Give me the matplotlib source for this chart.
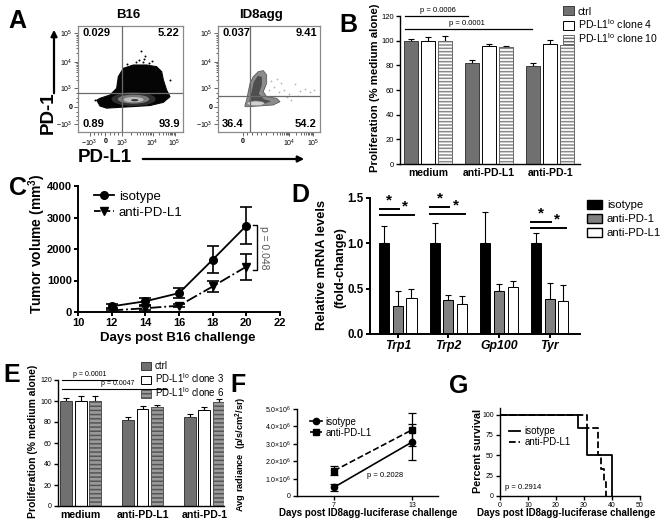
import numpy as np
import matplotlib
matplotlib.use('Agg')
import matplotlib.pyplot as plt
from matplotlib.patches import Polygon, Ellipse, Patch, FancyArrowPatch
from matplotlib.lines import Line2D

plt.rcParams['font.family'] = ['Liberation Sans', 'DejaVu Sans']
plt.rcParams['mathtext.fontset'] = 'custom'
plt.rcParams['mathtext.rm'] = 'Liberation Sans'
plt.rcParams['mathtext.it'] = 'Liberation Sans:italic'
plt.rcParams['mathtext.bf'] = 'Liberation Sans:bold'
plt.rcParams['hatch.linewidth'] = 1.1

# ---------------- data ----------------
# Panel A (flow cytometry)
flow_titles = ['B16', 'ID8agg']
b16_quadrants = ['0.029', '5.22', '0.89', '93.9']
id8_quadrants = ['0.037', '9.41', '36.4', '54.2']
flow_y_labels = ['$10^5$', '$10^4$', '$10^3$', '0', '$-10^3$']
b16_x_labels = ['$-10^3$', '0', '$10^3$', '$10^4$', '$10^5$']
id8_x_labels = ['0', '$10^4$', '$10^5$']
b16_outer = [(0.178, 0.30), (0.21, 0.245), (0.273, 0.225), (0.40, 0.233), (0.527, 0.240),
             (0.686, 0.250), (0.813, 0.280), (0.876, 0.333), (0.844, 0.396), (0.813, 0.491),
             (0.797, 0.569), (0.749, 0.616), (0.654, 0.632), (0.527, 0.632), (0.432, 0.601),
             (0.384, 0.522), (0.368, 0.412), (0.305, 0.349), (0.21, 0.318)]
b16_dots = [(0.62, 0.66), (0.55, 0.66), (0.63, 0.69), (0.58, 0.68), (0.68, 0.65), (0.64, 0.72),
            (0.88, 0.49), (0.16, 0.30), (0.47, 0.64), (0.60, 0.76), (0.70, 0.67)]
id8_outer = [(0.265, 0.239), (0.265, 0.255), (0.281, 0.302), (0.297, 0.381), (0.314, 0.459),
             (0.346, 0.522), (0.395, 0.569), (0.444, 0.579), (0.477, 0.538), (0.477, 0.459),
             (0.444, 0.381), (0.477, 0.333), (0.575, 0.318), (0.608, 0.286), (0.542, 0.255),
             (0.395, 0.245), (0.297, 0.239)]
id8_inner = [(0.30, 0.27), (0.33, 0.38), (0.35, 0.47), (0.39, 0.53), (0.43, 0.52), (0.43, 0.44),
             (0.40, 0.36), (0.45, 0.31), (0.52, 0.29), (0.45, 0.265), (0.34, 0.26)]
id8_dots = [(0.55, 0.42), (0.60, 0.38), (0.65, 0.40), (0.70, 0.36), (0.75, 0.45), (0.80, 0.39),
            (0.85, 0.41), (0.90, 0.38), (0.62, 0.46), (0.68, 0.33), (0.58, 0.50), (0.52, 0.48),
            (0.72, 0.30), (0.78, 0.34), (0.94, 0.40), (0.50, 0.40)]

# Panel B
b_groups = ['medium', 'anti-PD-L1', 'anti-PD-1']
b_labels = ['ctrl', 'PD-L1$^{\\mathregular{lo}}$ clone 4', 'PD-L1$^{\\mathregular{lo}}$ clone 10']
b_ctrl = [100, 81.7, 79.3]
b_ctrl_err = [1.5, 2.7, 2.8]
b_c4 = [100, 95.8, 97.4]
b_c4_err = [3.2, 1.8, 3.4]
b_c10 = [100, 95.0, 96.3]
b_c10_err = [3.8, 1.0, 1.3]
b_pvals = ['p = 0.0006', 'p = 0.0001']

# Panel C
c_days = [12, 14, 16, 18, 20]
c_iso = [180, 340, 600, 1660, 2740]
c_iso_err = [60, 110, 160, 420, 590]
c_pdl1 = [50, 120, 200, 810, 1440]
c_pdl1_err = [30, 70, 40, 160, 410]
c_labels = ['isotype', 'anti-PD-L1']
c_pval = 'p = 0.048'

# Panel D
d_genes = ['Trp1', 'Trp2', 'Gp100', 'Tyr']
d_labels = ['isotype', 'anti-PD-1', 'anti-PD-L1']
d_iso = [1.0, 1.0, 1.0, 1.0]
d_iso_err = [0.19, 0.22, 0.35, 0.11]
d_pd1 = [0.31, 0.38, 0.475, 0.385]
d_pd1_err = [0.16, 0.05, 0.075, 0.175]
d_pdl1 = [0.40, 0.33, 0.515, 0.365]
d_pdl1_err = [0.10, 0.09, 0.07, 0.175]

# Panel E
e_groups = ['medium', 'anti-PD-L1', 'anti-PD-1']
e_labels = ['ctrl', 'PD-L1$^{\\mathregular{lo}}$ clone 3', 'PD-L1$^{\\mathregular{lo}}$ clone 6']
e_ctrl = [100, 81.9, 84.5]
e_ctrl_err = [2.5, 2.5, 3.5]
e_c3 = [100, 92.4, 91.0]
e_c3_err = [5.0, 3.0, 3.0]
e_c6 = [100, 94.4, 99.5]
e_c6_err = [4.3, 1.4, 2.0]
e_pvals = ['p = 0.0001', 'p = 0.0047']

# Panel F (x10^6)
f_days = [7, 13]
f_iso = [0.5, 3.1]
f_iso_err = [0.2, 1.05]
f_pdl1 = [1.45, 3.8]
f_pdl1_err = [0.26, 0.95]
f_pval = 'p = 0.2028'

# Panel G
g_iso_t = [0, 28, 31, 40]
g_iso_s = [100, 83.3, 50, 0]
g_pdl1_t = [0, 31, 35, 36, 37, 38]
g_pdl1_s = [100, 83.3, 50, 33.3, 16.7, 0]
g_pval = 'p = 0.2914'

xlabel_f = 'Days post ID8agg-luciferase challenge'

# ---------------- figure ----------------
W, H = 664, 527
fig = plt.figure(figsize=(W / 100, H / 100), dpi=100)


def axpx(l, t, r, b):
    return fig.add_axes([l / W, 1 - b / H, (r - l) / W, (b - t) / H])


def ftext(x, y, s, **kw):
    fig.text(x / W, 1 - y / H, s, **kw)


def gp(ax, lw=1.2, size=8, bold=True, length=3):
    for s in ['top', 'right']:
        ax.spines[s].set_visible(False)
    for s in ['left', 'bottom']:
        ax.spines[s].set_linewidth(lw)
    ax.tick_params(direction='out', width=lw, length=length, labelsize=size, pad=1.5)
    if bold:
        for lab in ax.get_xticklabels() + ax.get_yticklabels():
            lab.set_fontweight('bold')


# panel letters
for letter, x, y in [('A', 8, 28), ('B', 339, 32), ('C', 9, 195), ('D', 291, 202),
                     ('E', 3, 382), ('F', 230, 392), ('G', 449, 393)]:
    ftext(x, y, letter, fontsize=18, fontweight='bold', va='baseline', ha='left')

# ---------- Panel A ----------
flow_y_pos = [0.93, 0.66, 0.415, 0.236, 0.075]


def minor_log(p0, p1):
    return [p0 + (p1 - p0) * np.log10(k) for k in range(2, 10)]


def flow_axes(rect, xpos, xlabels, qx, qy, quads, minors):
    ax = axpx(*rect)
    ax.set_xlim(0, 1)
    ax.set_ylim(0, 1)
    for s in ax.spines.values():
        s.set_color('#8a8a8a')
        s.set_linewidth(0.9)
    ax.set_xticks(xpos)
    ax.set_xticklabels(xlabels, fontsize=5, fontweight='bold')
    ax.set_yticks(flow_y_pos)
    ax.set_yticklabels(flow_y_labels, fontsize=5, fontweight='bold')
    ax.set_xticks(minors, minor=True)
    ax.set_yticks(minor_log(0.415, 0.66) + minor_log(0.66, 0.93) + [0.28, 0.32, 0.37, 0.19, 0.15, 0.11],
                  minor=True)
    ax.tick_params(which='both', direction='out', color='#666', width=0.7, pad=1)
    ax.tick_params(which='major', length=3)
    ax.tick_params(which='minor', length=1.8)
    ax.axvline(qx, color='#6a6a6a', lw=0.9, zorder=5)
    ax.axhline(qy, color='#6a6a6a', lw=0.9, zorder=5)
    kw = dict(fontsize=8, fontweight='bold', zorder=6)
    ax.text(0.04, 0.93, quads[0], ha='left', va='center', **kw)
    ax.text(0.97, 0.93, quads[1], ha='right', va='center', **kw)
    ax.text(0.04, 0.075, quads[2], ha='left', va='center', **kw)
    ax.text(0.97, 0.075, quads[3], ha='right', va='center', **kw)
    return ax


axA1 = flow_axes((78, 26, 183, 132), [0.11, 0.26, 0.42, 0.71, 0.92], b16_x_labels, 0.42, 0.37,
                 b16_quadrants, minor_log(0.42, 0.71) + minor_log(0.71, 0.92) + [0.15, 0.19, 0.22, 0.30, 0.34, 0.38])
axA1.add_patch(Polygon(b16_outer, closed=True, fc='#050505', ec='#050505', lw=0.8, zorder=2))
axA1.add_patch(Ellipse((0.53, 0.31), 0.42, 0.13, fc='#2e2e2e', ec='none', zorder=3))
axA1.add_patch(Ellipse((0.53, 0.31), 0.30, 0.085, fc='#7a7a7a', ec='none', zorder=3))
axA1.add_patch(Ellipse((0.53, 0.305), 0.19, 0.05, fc='#bdbdbd', ec='none', zorder=3))
axA1.add_patch(Ellipse((0.54, 0.30), 0.07, 0.022, fc='#3a3a3a', ec='none', zorder=4))
axA1.scatter([p[0] for p in b16_dots], [p[1] for p in b16_dots], s=2, c='k', zorder=2, lw=0)

axA2 = flow_axes((218, 26, 320, 132), [0.245, 0.70, 0.93], id8_x_labels, 0.314, 0.34,
                 id8_quadrants, minor_log(0.47, 0.70) + minor_log(0.70, 0.93) + [0.28, 0.33, 0.38, 0.42, 0.47])
axA2.scatter([p[0] for p in id8_dots], [p[1] for p in id8_dots], s=1.5, c='#b0b0b0', zorder=2, lw=0)
axA2.add_patch(Polygon(id8_outer, closed=True, fc='#8c8c8c', ec='#5a5a5a', lw=0.6, zorder=2))
axA2.add_patch(Polygon(id8_inner, closed=True, fc='#4e4e4e', ec='none', zorder=3))
axA2.add_patch(Ellipse((0.37, 0.27), 0.17, 0.045, fc='#d0d0d0', ec='#777', lw=0.4, zorder=4))

for t, x in zip(flow_titles, [128, 261]):
    ftext(x, 15, t, fontsize=9.5, fontweight='bold', ha='center', va='center')

ftext(48, 113, 'PD-1', fontsize=13.5, fontweight='bold', rotation=90, ha='center', va='center')
ftext(105, 158, 'PD-L1', fontsize=13.5, fontweight='bold', ha='center', va='center')
fig.add_artist(FancyArrowPatch((54 / W, 1 - 96 / H), (54 / W, 1 - 27 / H),
                               transform=fig.transFigure, arrowstyle='-|>',
                               mutation_scale=9, lw=1.6, color='k'))
fig.add_artist(FancyArrowPatch((140 / W, 1 - 159 / H), (307 / W, 1 - 159 / H),
                               transform=fig.transFigure, arrowstyle='-|>',
                               mutation_scale=9, lw=1.6, color='k'))


# ---------- grouped bar helper ----------
def grouped_bars(ax, series, errs, colors, edges, hatches, off, bw, hatch_ec):
    xg = np.arange(len(series[0]))
    n = len(series)
    for i in range(n):
        xi = xg + (i - (n - 1) / 2) * off
        ax.bar(xi, series[i], bw, color=colors[i], edgecolor=edges[i], hatch=hatches[i], lw=0.7,
               zorder=2)
        if hatches[i]:
            ax.bar(xi, series[i], bw, color='none', edgecolor=hatch_ec, lw=0.7, zorder=3)
        ax.errorbar(xi, series[i], yerr=[np.zeros(len(errs[i])), errs[i]], fmt='none', ecolor='k',
                    elinewidth=0.8, capsize=2.5, capthick=0.8, zorder=1)
    return xg


# ---------- Panel B ----------
axB = axpx(400, 16, 580, 164)
xg = grouped_bars(axB, [b_ctrl, b_c4, b_c10], [b_ctrl_err, b_c4_err, b_c10_err],
                  ['#707070', 'white', 'white'], ['#3c3c3c', 'black', '#8a8a8a'], [None, None, '-----'],
                  0.28, 0.23, '#6a6a6a')
axB.set_xlim(-0.46, 2.49)
axB.set_ylim(0, 120)
axB.set_yticks(range(0, 121, 20))
axB.set_xticks(xg)
axB.set_xticklabels(b_groups)
gp(axB, lw=1.0, size=5.5, bold=False)
axB.tick_params(axis='x', length=0, pad=3)
for lab in axB.get_xticklabels():
    lab.set_fontsize(7.5)
    lab.set_fontweight('bold')
ftext(375, 88, 'Proliferation (% medium alone)', fontsize=8.2, fontweight='bold', rotation=90,
      ha='center', va='center')
axB.plot([-0.377, 0.656], [120, 120], color='k', lw=0.9, clip_on=False)
axB.plot([-0.377, 1.70], [109.5, 109.5], color='k', lw=0.9, clip_on=False)
axB.text(0.16, 124.5, b_pvals[0], fontsize=5.5, ha='center', va='center')
axB.text(0.64, 114, b_pvals[1], fontsize=5.5, ha='center', va='center')
hB = [Patch(fc='#707070', ec='#3c3c3c', lw=0.7), Patch(fc='white', ec='black', lw=0.7),
      Patch(fc='white', ec='#6a6a6a', hatch='-----', lw=0.7)]
fig.legend(hB, b_labels, loc='upper left', bbox_to_anchor=(557 / W, 1 - 0 / H), frameon=False,
           fontsize=7.6, handlelength=1.0, handleheight=0.95, labelspacing=0.05, handletextpad=0.35,
           borderpad=0.1)

# ---------- Panel C ----------
axC = axpx(78, 186, 280, 312)
axC.errorbar(c_days, c_iso, yerr=c_iso_err, fmt='-o', color='k', ms=5.5, lw=1.3, capsize=4,
             elinewidth=1.2, capthick=1.2)
axC.errorbar(c_days, c_pdl1, yerr=c_pdl1_err, fmt='v', ls='-.', color='k', ms=5.5, lw=1.3,
             capsize=4, elinewidth=1.2, capthick=1.2)
axC.set_xlim(10, 22)
axC.set_ylim(0, 4000)
axC.set_xticks(range(10, 23, 2))
axC.set_yticks(range(0, 4001, 1000))
gp(axC, lw=1.4, size=8)
ftext(178, 338, 'Days post B16 challenge', fontsize=9.5, fontweight='bold', ha='center', va='center')
ftext(37, 244, 'Tumor volume (mm$^{\\mathbf{3}}$)', fontsize=10, fontweight='bold', rotation=90,
      ha='center', va='center')
hC = [Line2D([], [], color='k', marker='o', ms=5.5, lw=1.3),
      Line2D([], [], color='k', marker='v', ms=5.5, lw=1.3, ls='--')]
axC.legend(hC, c_labels, loc='upper left', bbox_to_anchor=(0.02, 1.06), frameon=False, fontsize=9.5,
           handlelength=1.5, labelspacing=0.3, handletextpad=0.4)
axC.plot([20.4, 20.63, 20.63, 20.4], [2762, 2762, 1333, 1333], color='k', lw=1.0, clip_on=False)
axC.text(21.05, 2050, c_pval, rotation=270, fontsize=7.5, color='#555', ha='center', va='center')

# ---------- Panel D ----------
axD = axpx(370, 198, 580, 334)
xd = grouped_bars(axD, [d_iso, d_pd1, d_pdl1], [d_iso_err, d_pd1_err, d_pdl1_err],
                  ['black', '#808080', 'white'], ['black', 'black', 'black'], [None, None, None],
                  0.27, 0.2, 'k')
axD.set_xlim(-0.55, 3.6)
axD.set_ylim(0, 1.5)
axD.set_yticks([0, 0.5, 1.0, 1.5])
axD.set_yticklabels(['0.0', '0.5', '1.0', '1.5'])
axD.set_xticks(xd)
axD.set_xticklabels(d_genes)
gp(axD, lw=1.4, size=8.3)
for lab in axD.get_xticklabels():
    lab.set_fontstyle('italic')
    lab.set_fontsize(8.8)
ftext(322, 265, 'Relative mRNA levels', fontsize=9.2, fontweight='bold', rotation=90,
      ha='center', va='center')
ftext(340, 268, '(fold-change)', fontsize=9.2, fontweight='bold', rotation=90,
      ha='center', va='center')
for g, y1, y2 in [(0, 1.38, 1.31), (1, 1.40, 1.32), (3, 1.235, 1.17)]:
    axD.plot([g - 0.36, g + 0.02], [y1, y1], color='k', lw=1.4, clip_on=False)
    axD.plot([g - 0.36, g + 0.32], [y2, y2], color='k', lw=1.4, clip_on=False)
    axD.text(g - 0.17, y1 + 0.015, '*', fontsize=11, fontweight='bold', ha='center', va='bottom')
    axD.text(g + 0.14, y2 + 0.015, '*', fontsize=11, fontweight='bold', ha='center', va='bottom')
hD = [Patch(fc='black', ec='black'), Patch(fc='#808080', ec='black'), Patch(fc='white', ec='black')]
fig.legend(hD, d_labels, loc='upper left', bbox_to_anchor=(580 / W, 1 - 193 / H), frameon=False,
           fontsize=8.2, handlelength=1.3, handleheight=0.9, labelspacing=0.28, handletextpad=0.45,
           borderpad=0.1)

# ---------- Panel E ----------
axE = axpx(58, 380, 224, 506)
xe = grouped_bars(axE, [e_ctrl, e_c3, e_c6], [e_ctrl_err, e_c3_err, e_c6_err],
                  ['#707070', 'white', '#9a9a9a'], ['#3c3c3c', 'black', '#555'], [None, None, '----'],
                  0.235, 0.19, '#555')
axE.set_xlim(-0.37, 2.32)
axE.set_ylim(0, 120)
axE.set_yticks(range(0, 121, 20))
axE.set_xticks(xe)
axE.set_xticklabels(e_groups)
gp(axE, lw=1.0, size=5, bold=False)
axE.tick_params(axis='x', length=0, pad=3)
for lab in axE.get_xticklabels():
    lab.set_fontsize(7.6)
    lab.set_fontweight('bold')
ftext(33, 441, 'Proliferation (% medium alone)', fontsize=7.5, fontweight='bold', rotation=90,
      ha='center', va='center')
axE.plot([-0.31, 0.59], [120, 120], color='k', lw=0.8, clip_on=False)
axE.plot([-0.31, 1.40], [111.4, 111.4], color='k', lw=0.8, clip_on=False)
axE.text(0.15, 124.8, e_pvals[0], fontsize=5, ha='center', va='center')
axE.text(0.59, 116.2, e_pvals[1], fontsize=5, ha='center', va='center')
hE = [Patch(fc='#707070', ec='#3c3c3c', lw=0.7), Patch(fc='white', ec='black', lw=0.7),
      Patch(fc='#9a9a9a', ec='#555', hatch='----', lw=0.7)]
fig.legend(hE, e_labels, loc='upper left', bbox_to_anchor=(136 / W, 1 - 356 / H), frameon=False,
           fontsize=7, handlelength=1.0, handleheight=0.9, labelspacing=0.0, handletextpad=0.4,
           borderpad=0.05)

# ---------- Panel F ----------
axF = axpx(297, 409, 438, 496)
axF.errorbar(f_days, f_iso, yerr=f_iso_err, fmt='-o', color='k', ms=4.5, lw=1.2, capsize=3,
             elinewidth=0.9, capthick=0.9)
axF.errorbar(f_days, f_pdl1, yerr=f_pdl1_err, fmt='s', ls='--', color='k', ms=4.5, lw=1.2,
             capsize=3, elinewidth=0.9, capthick=0.9)
axF.set_xlim(4.15, 15)
axF.set_ylim(0, 5)
axF.set_xticks(f_days)
axF.set_yticks([0, 1, 2, 3, 4, 5])
axF.set_yticklabels(['0'] + ['%d.0$\\times$10$^{6}$' % v for v in range(1, 6)])
gp(axF, lw=1.0, size=5, bold=False)
ftext(368, 513, xlabel_f, fontsize=7, fontweight='bold', ha='center', va='center')
ftext(241, 454, 'Avg radiance  (p/s/cm$^{\\mathbf{2}}$/sr)', fontsize=6.7, fontweight='bold',
      rotation=90, ha='center', va='center')
hF = [Line2D([], [], color='k', marker='o', ms=4.5, lw=1.2),
      Line2D([], [], color='k', marker='s', ms=4.5, lw=1.2, ls='--')]
axF.legend(hF, ['isotype', 'anti-PD-L1'], loc='upper left', bbox_to_anchor=(0.05, 0.98),
           frameon=False, fontsize=7, handlelength=1.2, labelspacing=0.1, handletextpad=0.4,
           borderpad=0.1)
axF.text(10.9, 1.15, f_pval, fontsize=5.5, ha='center', va='center')

# ---------- Panel G ----------
axG = axpx(500, 408, 640, 496)
axG.step(g_iso_t, g_iso_s, where='post', color='k', lw=1.3)
axG.step(g_pdl1_t, g_pdl1_s, where='post', color='k', lw=1.3, ls='--')
axG.set_xlim(0, 50)
axG.set_ylim(0, 108)
axG.set_xticks(range(0, 51, 10))
axG.set_yticks([0, 25, 50, 75, 100])
gp(axG, lw=1.0, size=5, bold=False)
ftext(566, 513, xlabel_f, fontsize=7, fontweight='bold', ha='center', va='center')
ftext(478, 451, 'Percent survival', fontsize=7.8, fontweight='bold', rotation=90,
      ha='center', va='center')
hG = [Line2D([], [], color='k', lw=1.3), Line2D([], [], color='k', lw=1.3, ls='--')]
axG.legend(hG, ['isotype', 'anti-PD-L1'], loc='upper left', bbox_to_anchor=(0.02, 0.86),
           frameon=False, fontsize=7, handlelength=1.2, labelspacing=0.1, handletextpad=0.4,
           borderpad=0.1)
axG.text(1.8, 11, g_pval, fontsize=5.5, ha='left', va='center')

fig.savefig('out.png', dpi=100)
